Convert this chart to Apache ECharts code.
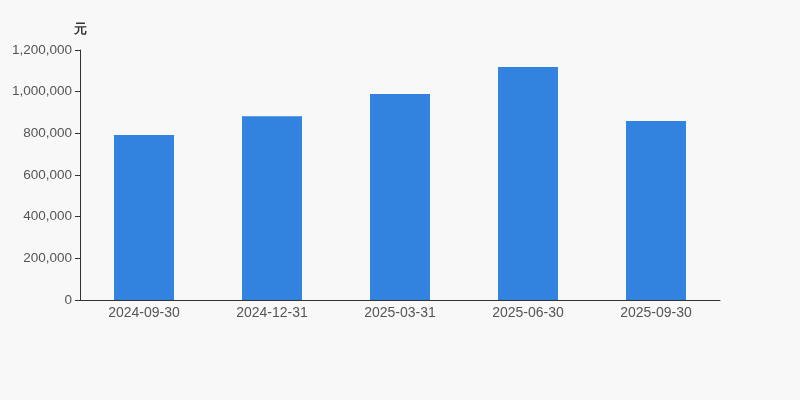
<!DOCTYPE html>
<html><head><meta charset="utf-8">
<script src="https://cdn.jsdelivr.net/npm/echarts@6/dist/echarts.min.js"></script>
<style>html,body{margin:0;padding:0;background:#f8f8f8}#c{width:800px;height:400px}</style>
</head><body><div id="c"></div>
<script>
var categories = ['2024-09-30','2024-12-31','2025-03-31','2025-06-30','2025-09-30'];
var values = [792000, 881600, 988800, 1118400, 859200];
var yTicks = {min: 0, max: 1200000, interval: 200000};
var chart = echarts.init(document.getElementById('c'));
chart.setOption({
  backgroundColor: '#f8f8f8',
  animation: false,
  grid: {left: 80, right: 80, top: 50, bottom: 100},
  xAxis: {
    type: 'category', data: categories,
    axisLine: {lineStyle: {color: '#333'}},
    axisTick: {lineStyle: {color: '#333'}},
    axisLabel: {color: '#555', fontSize: 14, fontFamily: 'Liberation Sans, Arial, sans-serif', margin: 6}
  },
  yAxis: {
    type: 'value', min: yTicks.min, max: yTicks.max, interval: yTicks.interval,
    name: '元', nameGap: 14,
    nameTextStyle: {color: '#333', fontWeight: 'bold', fontSize: 13, align: 'center', padding: [0, 0, 0, 0]},
    axisLine: {show: true, lineStyle: {color: '#333'}},
    axisTick: {show: true, lineStyle: {color: '#333'}},
    splitLine: {show: false},
    axisLabel: {color: '#555', fontSize: 13.5, fontFamily: 'Liberation Sans, Arial, sans-serif', margin: 8,
      formatter: function(v){ return v.toLocaleString('en-US'); }}
  },
  series: [{
    type: 'bar', data: values, barWidth: 60,
    itemStyle: {color: '#3282e0'}
  }]
});
</script></body></html>
